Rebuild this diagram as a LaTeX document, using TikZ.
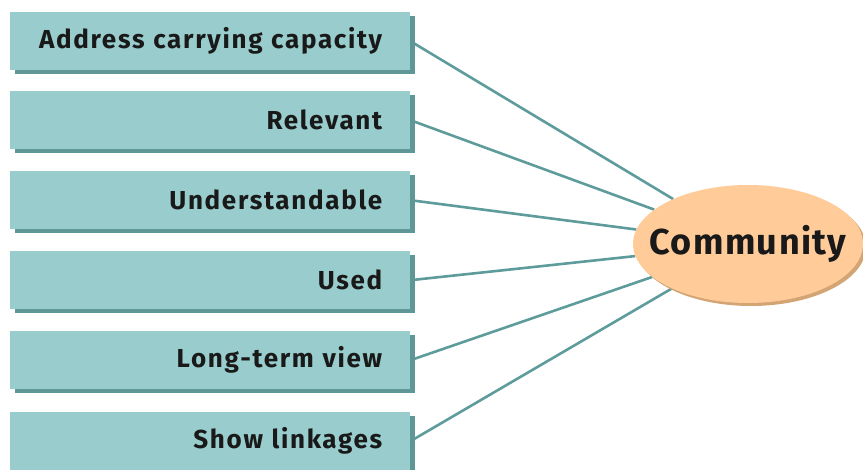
\documentclass[tikz,border=0pt]{standalone}
\usepackage{fontspec}
\setmainfont{Fira Sans}
\newfontfamily\labelfont[LetterSpace=6.5]{Fira Sans}
\newfontfamily\hubfont[LetterSpace=4]{Fira Sans}
\usetikzlibrary{shapes.geometric,shadows,backgrounds}
\definecolor{boxfill}{HTML}{99CCCC}
\definecolor{boxshade}{HTML}{5F9696}
\definecolor{linkline}{HTML}{5E9B9B}
\definecolor{hubfill}{HTML}{FFCC99}
\definecolor{hubshade}{HTML}{D4A574}
\tikzset{
  itembox/.style={rectangle, fill=boxfill, anchor=north west,
    minimum height=58pt, text width=344pt, inner xsep=28pt, inner ysep=0pt,
    align=right, font=\labelfont\bfseries\fontsize{26}{28}\selectfont, text=black!90,
    drop shadow={shadow xshift=5pt, shadow yshift=-4pt, fill=boxshade, opacity=1}},
  hub/.style={ellipse, fill=hubfill, minimum width=230pt, minimum height=118pt,
    inner sep=0pt, font=\hubfont\bfseries\fontsize{36}{40}\selectfont, text=black!90,
    drop shadow={shadow xshift=3pt, shadow yshift=-3pt, fill=hubshade, opacity=1}},
  link/.style={draw=linkline, line width=2.6pt}
}
\begin{document}
\begin{tikzpicture}[x=1pt,y=-1pt]
  \useasboundingbox (0,0) rectangle (863,470);
  \clip (0,0) rectangle (863,470);
  \node[itembox] (b1) at (10,12)  {Address carrying capacity};
  \node[itembox] (b2) at (10,91)  {Relevant};
  \node[itembox] (b3) at (10,171) {Understandable};
  \node[itembox] (b4) at (10,251) {Used};
  \node[itembox] (b5) at (10,331) {Long-term view};
  \node[itembox] (b6) at (10,412) {Show linkages};
  \node[hub] (comm) at (748,244) {\makebox[0pt]{Community}};
  \begin{scope}[on background layer]
    \foreach \b in {b1,b2,b3,b4,b5,b6}
      \draw[link] (\b.east) -- (comm);
  \end{scope}
\end{tikzpicture}
\end{document}
